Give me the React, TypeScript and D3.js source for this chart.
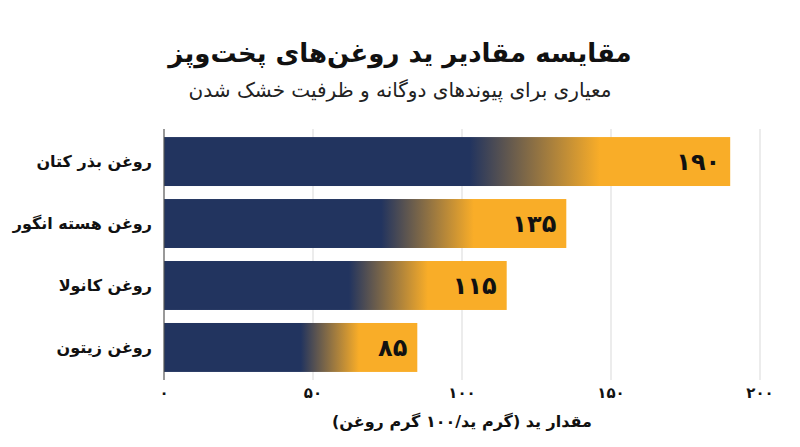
import * as d3 from 'd3'
import React from 'react'

const title = 'مقایسه مقادیر ید روغن‌های پخت‌وپز'
const subtitle = 'معیاری برای پیوندهای دوگانه و ظرفیت خشک شدن'
const axisTitle = 'مقدار ید (گرم ید/۱۰۰ گرم روغن)'

const oils = ['روغن بذر کتان', 'روغن هسته انگور', 'روغن کانولا', 'روغن زیتون']
const iodine = [190, 135, 115, 85]
const ticks = [0, 50, 100, 150, 200]

const W = 800
const H = 447
const font = '"DejaVu Sans", sans-serif'

// latin digits -> persian digits
const fa = (n: number) => String(n).replace(/\d/g, d => '۰۱۲۳۴۵۶۷۸۹'[+d])

const App = () => {
  const x = d3.scaleLinear().domain([0, 200]).range([164, 760])
  const y = d3.scaleBand<string>().domain(oils).range([129, 380]).paddingInner(0.21).paddingOuter(0.13)
  const [y0, y1] = y.range()

  return (
    <svg width={W} height={H} style={{ position: 'absolute', left: 0, top: 0 }} fontFamily={font}>
      <defs>
        <linearGradient id="barFill" x1="0" x2="1" y1="0" y2="0">
          <stop offset="0" stopColor="#22345f" />
          <stop offset="0.54" stopColor="#22345f" />
          <stop offset="0.77" stopColor="#f9ad28" />
          <stop offset="1" stopColor="#f9ad28" />
        </linearGradient>
      </defs>
      <rect width={W} height={H} fill="#fff" />

      <text x={W / 2} y={62} textAnchor="middle" direction="rtl" fontSize={26} fontWeight="bold" fill="#111">{title}</text>
      <text x={W / 2} y={97} textAnchor="middle" direction="rtl" fontSize={20} fill="#222">{subtitle}</text>

      {/* grid */}
      {ticks.slice(1).map(t => (
        <line key={t} x1={x(t)} x2={x(t)} y1={y0} y2={y1} stroke="#d9d9d9" strokeWidth={1} />
      ))}

      {oils.map((o, i) => (
        <g key={o}>
          <rect x={x(0)} y={y(o)} width={x(iodine[i]) - x(0)} height={y.bandwidth()} fill="url(#barFill)" />
          <text x={x(iodine[i]) - 10} y={y(o)! + y.bandwidth() / 2} dy="0.36em" textAnchor="end"
            fontSize={24} fontWeight="bold" letterSpacing={-1.5} fill="#111">{fa(iodine[i])}</text>
          <text x={152} y={y(o)! + y.bandwidth() / 2} dy="0.36em" textAnchor="start" direction="rtl"
            fontSize={16} fontWeight="bold" fill="#111">{o}</text>
        </g>
      ))}

      <line x1={x(0)} x2={x(0)} y1={y0} y2={y1} stroke="#555" strokeWidth={1.2} />

      {ticks.map(t => (
        <text key={t} x={x(t)} y={393} dy="0.36em" textAnchor="middle" fontSize={15} fontWeight="bold" fill="#111">{fa(t)}</text>
      ))}
      <text x={462} y={421} dy="0.36em" textAnchor="middle" direction="rtl" fontSize={16} fontWeight="bold" fill="#111">{axisTitle}</text>
    </svg>
  )
}

export default App
